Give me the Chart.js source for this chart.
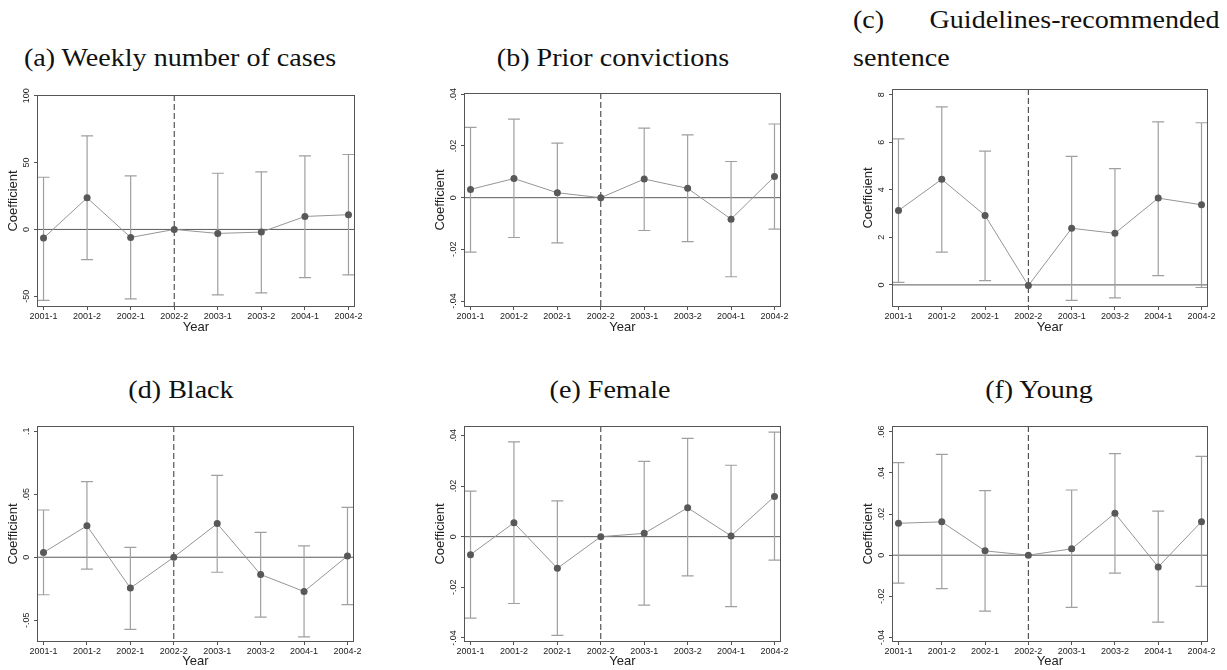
<!DOCTYPE html>
<html>
<head>
<meta charset="utf-8">
<script src="https://cdn.jsdelivr.net/npm/chart.js@4.4.0/dist/chart.umd.min.js"></script>
<style>
body { margin: 0; background: #fff; width: 1227px; height: 670px; position: relative; overflow: hidden; }
.t { position: absolute; font-family: "Liberation Serif", serif; font-size: 26px; line-height: 30px; color: #111; white-space: nowrap; transform-origin: left center; transform: scaleX(1.08); }
.c { transform-origin: center center; transform: translateX(-50%) scaleX(1.08); }
.r { transform-origin: right center; }
canvas { position: absolute; }
</style>
</head>
<body>
<div class="t c" style="left:180px;top:43px">(a) Weekly number of cases</div>
<div class="t c" style="left:613px;top:43px">(b) Prior convictions</div>
<div class="t" style="left:853px;top:5px">(c)</div>
<div class="t r" style="right:7px;top:5px">Guidelines-recommended</div>
<div class="t" style="left:853px;top:43px">sentence</div>
<div class="t c" style="left:181px;top:375px">(d) Black</div>
<div class="t c" style="left:610px;top:375px">(e) Female</div>
<div class="t c" style="left:1039px;top:375px">(f) Young</div>
<script>
const categories = ['2001-1', '2001-2', '2002-1', '2002-2', '2003-1', '2003-2', '2004-1', '2004-2'];

// (a) weekly number of cases
const casesCoef = [-6.5, 23.6, -6, 0, -3, -2, 9.7, 11];
const casesLow = [-53, -22.6, -52, null, -49, -47.5, -36, -34];
const casesHigh = [39, 70, 40, null, 42, 43, 55, 56];
const casesTicks = [-50, 0, 50, 100];
const casesTickLabels = ['-50', '0', '50', '100'];

// (b) prior convictions
const priorCoef = [0.0032, 0.0074, 0.0019, 0, 0.0072, 0.0036, -0.0083, 0.0082];
const priorLow = [-0.0211, -0.0154, -0.0175, null, -0.0127, -0.017, -0.0306, -0.0122];
const priorHigh = [0.0272, 0.0304, 0.0211, null, 0.0269, 0.0243, 0.014, 0.0285];
const priorTicks = [-0.04, -0.02, 0, 0.02, 0.04];
const priorTickLabels = ['-.04', '-.02', '0', '.02', '.04'];

// (c) guidelines-recommended sentence
const guideCoef = [3.13, 4.44, 2.92, -0.03, 2.38, 2.17, 3.65, 3.37];
const guideLow = [0.11, 1.38, 0.18, null, -0.65, -0.55, 0.39, -0.11];
const guideHigh = [6.14, 7.49, 5.63, null, 5.41, 4.89, 6.86, 6.82];
const guideTicks = [0, 2, 4, 6, 8];
const guideTickLabels = ['0', '2', '4', '6', '8'];

// (d) black
const blackCoef = [0.0037, 0.025, -0.0245, 0, 0.0267, -0.0137, -0.0272, 0.001];
const blackLow = [-0.0298, -0.0095, -0.0573, null, -0.0119, -0.0475, -0.0633, -0.0377];
const blackHigh = [0.0375, 0.06, 0.0079, null, 0.065, 0.0198, 0.009, 0.0396];
const blackTicks = [-0.05, 0, 0.05, 0.1];
const blackTickLabels = ['-.05', '0', '.05', '.1'];

// (e) female
const femaleCoef = [-0.0071, 0.0055, -0.0125, 0, 0.0013, 0.0114, 0.0003, 0.0159];
const femaleLow = [-0.0322, -0.0264, -0.039, null, -0.027, -0.0155, -0.0276, -0.0093];
const femaleHigh = [0.018, 0.0374, 0.0141, null, 0.0297, 0.0388, 0.0282, 0.0413];
const femaleTicks = [-0.04, -0.02, 0, 0.02, 0.04];
const femaleTickLabels = ['-.04', '-.02', '0', '.02', '.04'];

// (f) young
const youngCoef = [0.0155, 0.0162, 0.0021, 0, 0.0031, 0.0204, -0.0057, 0.0163];
const youngLow = [-0.0136, -0.0163, -0.0272, null, -0.0254, -0.0087, -0.0325, -0.0152];
const youngHigh = [0.045, 0.049, 0.0314, null, 0.0317, 0.0494, 0.0214, 0.048];
const youngTicks = [-0.04, -0.02, 0, 0.02, 0.04, 0.06];
const youngTickLabels = ['-.04', '-.02', '0', '.02', '.04', '.06'];

// frame position of each panel (px) and y range
const panels = [
  { coef: casesCoef, low: casesLow, high: casesHigh, ticks: casesTicks, labels: casesTickLabels, min: -58, max: 100.5, L: 37, T: 95, R: 355, B: 307, xh: 32 },
  { coef: priorCoef, low: priorLow, high: priorHigh, ticks: priorTicks, labels: priorTickLabels, min: -0.0423, max: 0.0405, L: 464, T: 93, R: 781, B: 307, xh: 32 },
  { coef: guideCoef, low: guideLow, high: guideHigh, ticks: guideTicks, labels: guideTickLabels, min: -0.93, max: 8.24, L: 892, T: 89, R: 1208, B: 307, xh: 32 },
  { coef: blackCoef, low: blackLow, high: blackHigh, ticks: blackTicks, labels: blackTickLabels, min: -0.0673, max: 0.1042, L: 37, T: 426, R: 354, B: 642, xh: 28 },
  { coef: femaleCoef, low: femaleLow, high: femaleHigh, ticks: femaleTicks, labels: femaleTickLabels, min: -0.0416, max: 0.0437, L: 464, T: 426, R: 781, B: 642, xh: 28 },
  { coef: youngCoef, low: youngLow, high: youngHigh, ticks: youngTicks, labels: youngTickLabels, min: -0.0422, max: 0.0628, L: 892, T: 426, R: 1208, B: 642, xh: 28 }
];

const YW = 37, PT = 10, PR = 10;

function makePanel(p) {
  const canvas = document.createElement('canvas');
  canvas.width = p.R - p.L + YW + PR;
  canvas.height = p.B - p.T + PT + p.xh;
  canvas.style.left = (p.L - YW) + 'px';
  canvas.style.top = (p.T - PT) + 'px';
  document.body.appendChild(canvas);

  // zero line, event line, error bars, frame and rotated y labels
  const decor = {
    id: 'decor',
    beforeDatasetsDraw(chart) {
      const { ctx, chartArea: a, scales: { x, y } } = chart;
      ctx.save();
      const y0 = y.getPixelForValue(0);
      ctx.strokeStyle = '#5a5a5a';
      ctx.lineWidth = 1;
      ctx.beginPath(); ctx.moveTo(a.left, y0); ctx.lineTo(a.right, y0); ctx.stroke();

      const xe = x.getPixelForValue(3);
      ctx.strokeStyle = '#333';
      ctx.setLineDash([6, 3]);
      ctx.beginPath(); ctx.moveTo(xe, a.top); ctx.lineTo(xe, a.bottom); ctx.stroke();
      ctx.setLineDash([]);

      ctx.strokeStyle = '#a0a0a0';
      ctx.lineWidth = 1.2;
      p.low.forEach((lo, i) => {
        if (lo === null) return;
        const xp = x.getPixelForValue(i);
        const yl = y.getPixelForValue(lo), yh = y.getPixelForValue(p.high[i]);
        ctx.beginPath();
        ctx.moveTo(xp, yl); ctx.lineTo(xp, yh);
        ctx.moveTo(xp - 6, yl); ctx.lineTo(xp + 6, yl);
        ctx.moveTo(xp - 6, yh); ctx.lineTo(xp + 6, yh);
        ctx.stroke();
      });

      ctx.strokeStyle = '#555';
      ctx.lineWidth = 1;
      ctx.strokeRect(a.left + 0.5, a.top + 0.5, a.right - a.left - 1, a.bottom - a.top - 1);
      ctx.restore();
    },
    afterDraw(chart) {
      const { ctx, chartArea: a, scales: { y } } = chart;
      ctx.save();
      ctx.fillStyle = '#222';
      ctx.font = '9px "Liberation Sans", Arial, sans-serif';
      ctx.textAlign = 'center';
      ctx.textBaseline = 'middle';
      p.ticks.forEach((v, i) => {
        ctx.save();
        ctx.translate(a.left - 10, y.getPixelForValue(v));
        ctx.rotate(-Math.PI / 2);
        ctx.fillText(p.labels[i], 0, 0);
        ctx.restore();
      });
      ctx.restore();
    }
  };

  new Chart(canvas, {
    type: 'line',
    data: {
      datasets: [{
        data: p.coef.map((v, i) => ({ x: i, y: v })),
        borderColor: '#959595',
        borderWidth: 1,
        pointRadius: 3.5,
        pointBackgroundColor: '#585858',
        pointBorderWidth: 0,
        tension: 0
      }]
    },
    options: {
      responsive: false,
      animation: false,
      devicePixelRatio: 1,
      layout: { padding: { top: PT, right: PR, left: 0, bottom: 0 } },
      plugins: { legend: { display: false }, tooltip: { enabled: false } },
      scales: {
        x: {
          type: 'linear', min: -0.15, max: 7.15,
          afterBuildTicks: s => { s.ticks = categories.map((c, i) => ({ value: i })); },
          afterFit: s => { s.height = p.xh; },
          ticks: {
            callback: v => categories[v],
            font: { family: '"Liberation Sans", Arial, sans-serif', size: 9 },
            color: '#222', padding: 1, maxRotation: 0, autoSkip: false
          },
          grid: { drawOnChartArea: false, tickLength: 3, tickColor: '#555' },
          border: { display: false },
          title: {
            display: true, text: 'Year', color: '#222',
            font: { family: '"Liberation Sans", Arial, sans-serif', size: 13 },
            padding: { top: 0, bottom: p.xh === 32 ? 4 : 1 }
          }
        },
        y: {
          min: p.min, max: p.max,
          afterBuildTicks: s => { s.ticks = p.ticks.map(v => ({ value: v })); },
          afterFit: s => { s.width = YW; },
          ticks: { color: 'rgba(0,0,0,0)', font: { size: 9 } },
          grid: { drawOnChartArea: false, tickLength: 3, tickColor: '#555' },
          border: { display: false },
          title: {
            display: true, text: 'Coefficient', color: '#222',
            font: { family: '"Liberation Sans", Arial, sans-serif', size: 13 },
            padding: { top: 6, bottom: 0 }
          }
        }
      }
    },
    plugins: [decor]
  });
}

panels.forEach(makePanel);
</script>
</body>
</html>
